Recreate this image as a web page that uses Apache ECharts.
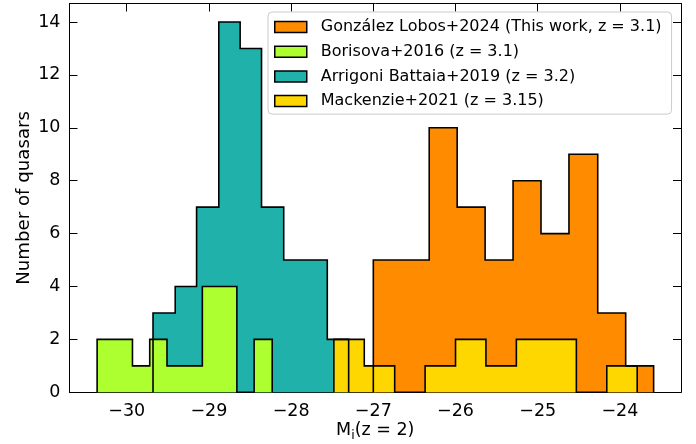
<!DOCTYPE html>
<html>
<head>
<meta charset="utf-8">
<script src="https://cdn.jsdelivr.net/npm/echarts@6/dist/echarts.min.js"></script>
<style>html,body{margin:0;padding:0;background:#fff}#c{width:696px;height:444px}</style>
</head>
<body>
<div id="c"></div>
<script>
// ---- data ----
const gonzalezEdges = [-27.00, -26.66, -26.32, -25.98, -25.64, -25.30, -24.96, -24.62, -24.27, -23.93, -23.59];
const gonzalezCounts = [5, 5, 10, 7, 5, 8, 6, 9, 3, 1];
const borisovaEdges = [-30.36, -30.15, -29.93, -29.72, -29.51, -29.30, -29.08, -28.87, -28.66, -28.45, -28.23];
const borisovaCounts = [2, 2, 1, 2, 1, 1, 4, 4, 0, 2];
const arrigoniEdges = [-29.68, -29.41, -29.15, -28.88, -28.62, -28.36, -28.09, -27.83, -27.56, -27.30];
const arrigoniCounts = [3, 4, 7, 14, 13, 7, 5, 5, 2];
const mackenzieEdges = [-27.48, -27.11, -26.74, -26.37, -26.00, -25.63, -25.26, -24.89, -24.53, -24.16, -23.79];
const mackenzieCounts = [2, 1, 0, 1, 2, 1, 2, 2, 0, 1];
const seriesNames = [
  'González Lobos+2024 (This work, z = 3.1)',
  'Borisova+2016 (z = 3.1)',
  'Arrigoni Battaia+2019 (z = 3.2)',
  'Mackenzie+2021 (z = 3.15)'
];
const xTicks = [-30, -29, -28, -27, -26, -25, -24];
const yTicks = [0, 2, 4, 6, 8, 10, 12, 14];

const FONT = 'DejaVu Sans';
const FS_TICK = 17.5;
const FS_TITLE = 18.2;
const FS_LEG = 16;
const colors = ['#FF8C00', '#ADFF2F', '#20B2AA', '#FFD700'];

function stepPath(edges, counts) {
  const pts = [[edges[0], 0]];
  for (let i = 0; i < counts.length; i++) {
    pts.push([edges[i], counts[i]]);
    pts.push([edges[i + 1], counts[i]]);
  }
  pts.push([edges[edges.length - 1], 0]);
  return pts;
}
function histSeries(name, color, edges, counts) {
  return {
    name: name, type: 'line', data: stepPath(edges, counts),
    xAxisIndex: 0, yAxisIndex: 0,
    symbol: 'none', showSymbol: false, smooth: false, animation: false,
    color: color,
    lineStyle: { color: '#000', width: 1.6, join: 'miter' },
    areaStyle: { color: color, opacity: 1, origin: 'start' },
    itemStyle: { color: color, borderColor: '#000', borderWidth: 1.5 },
    emphasis: { disabled: true }
  };
}
const minusFmt = v => (v < 0 ? '\u2212' + Math.abs(v) : String(v));
const tickStyle = { show: true, inside: true, length: 8, lineStyle: { color: '#000', width: 1 } };

const chart = echarts.init(document.getElementById('c'), null, { renderer: 'canvas' });
chart.setOption({
  animation: false,
  backgroundColor: '#fff',
  grid: { left: 69.5, right: 15, top: 3.5, bottom: 51.7, containLabel: false, outerBoundsMode: 'none' },
  xAxis: [{
    type: 'value', position: 'bottom', min: -30.696, max: -23.257,
    axisLine: { show: true, onZero: false, lineStyle: { color: '#000', width: 1 } },
    axisTick: Object.assign({}, tickStyle, { customValues: xTicks }),
    axisLabel: { customValues: xTicks, formatter: minusFmt, fontFamily: FONT, fontSize: FS_TICK, color: '#000', margin: 10.5 },
    splitLine: { show: false },
    name: '{m|M}{s|i}{m|(z = 2)}', nameLocation: 'middle', nameGap: 27.5, nameMoveOverlap: false,
    nameTextStyle: {
      fontFamily: FONT, fontSize: FS_TICK, color: '#000',
      rich: {
        m: { fontFamily: FONT, fontSize: FS_TICK, color: '#000', lineHeight: 22 },
        s: { fontFamily: FONT, fontSize: 12.5, color: '#000', verticalAlign: 'bottom', lineHeight: 22 }
      }
    }
  }, {
    type: 'value', position: 'top', min: -30.696, max: -23.257,
    axisLine: { show: true, onZero: false, lineStyle: { color: '#000', width: 1 } },
    axisTick: Object.assign({}, tickStyle, { customValues: xTicks }),
    axisLabel: { show: false }, splitLine: { show: false }
  }],
  yAxis: [{
    type: 'value', position: 'left', min: 0, max: 14.7,
    axisLine: { show: true, onZero: false, lineStyle: { color: '#000', width: 1 } },
    axisTick: Object.assign({}, tickStyle, { customValues: yTicks }),
    axisLabel: { customValues: yTicks, fontFamily: FONT, fontSize: FS_TICK, color: '#000', margin: 9 },
    splitLine: { show: false },
    name: 'Number of quasars', nameLocation: 'middle', nameGap: 36, nameMoveOverlap: false,
    nameTextStyle: { fontFamily: FONT, fontSize: FS_TITLE, color: '#000' }
  }, {
    type: 'value', position: 'right', min: 0, max: 14.7,
    axisLine: { show: true, onZero: false, lineStyle: { color: '#000', width: 1 } },
    axisTick: Object.assign({}, tickStyle, { customValues: yTicks }),
    axisLabel: { show: false }, splitLine: { show: false }
  }],
  legend: {
    orient: 'vertical', left: 268, top: 12,
    icon: 'rect', itemWidth: 32, itemHeight: 11, itemGap: 6.7,
    padding: [6, 10, 4, 6],
    backgroundColor: 'rgba(255,255,255,0.8)', borderColor: '#cccccc', borderWidth: 1, borderRadius: 4,
    selectedMode: false,
    textStyle: { fontFamily: FONT, fontSize: FS_LEG, color: '#000', lineHeight: 18, padding: [0, 0, 0, 9] },
    data: seriesNames.map((n, i) => ({ name: n, itemStyle: { color: colors[i], borderColor: '#000', borderWidth: 1.5 } }))
  },
  series: [
    histSeries(seriesNames[2], colors[2], arrigoniEdges, arrigoniCounts),
    histSeries(seriesNames[1], colors[1], borisovaEdges, borisovaCounts),
    histSeries(seriesNames[0], colors[0], gonzalezEdges, gonzalezCounts),
    histSeries(seriesNames[3], colors[3], mackenzieEdges, mackenzieCounts)
  ]
});
</script>
</body>
</html>
